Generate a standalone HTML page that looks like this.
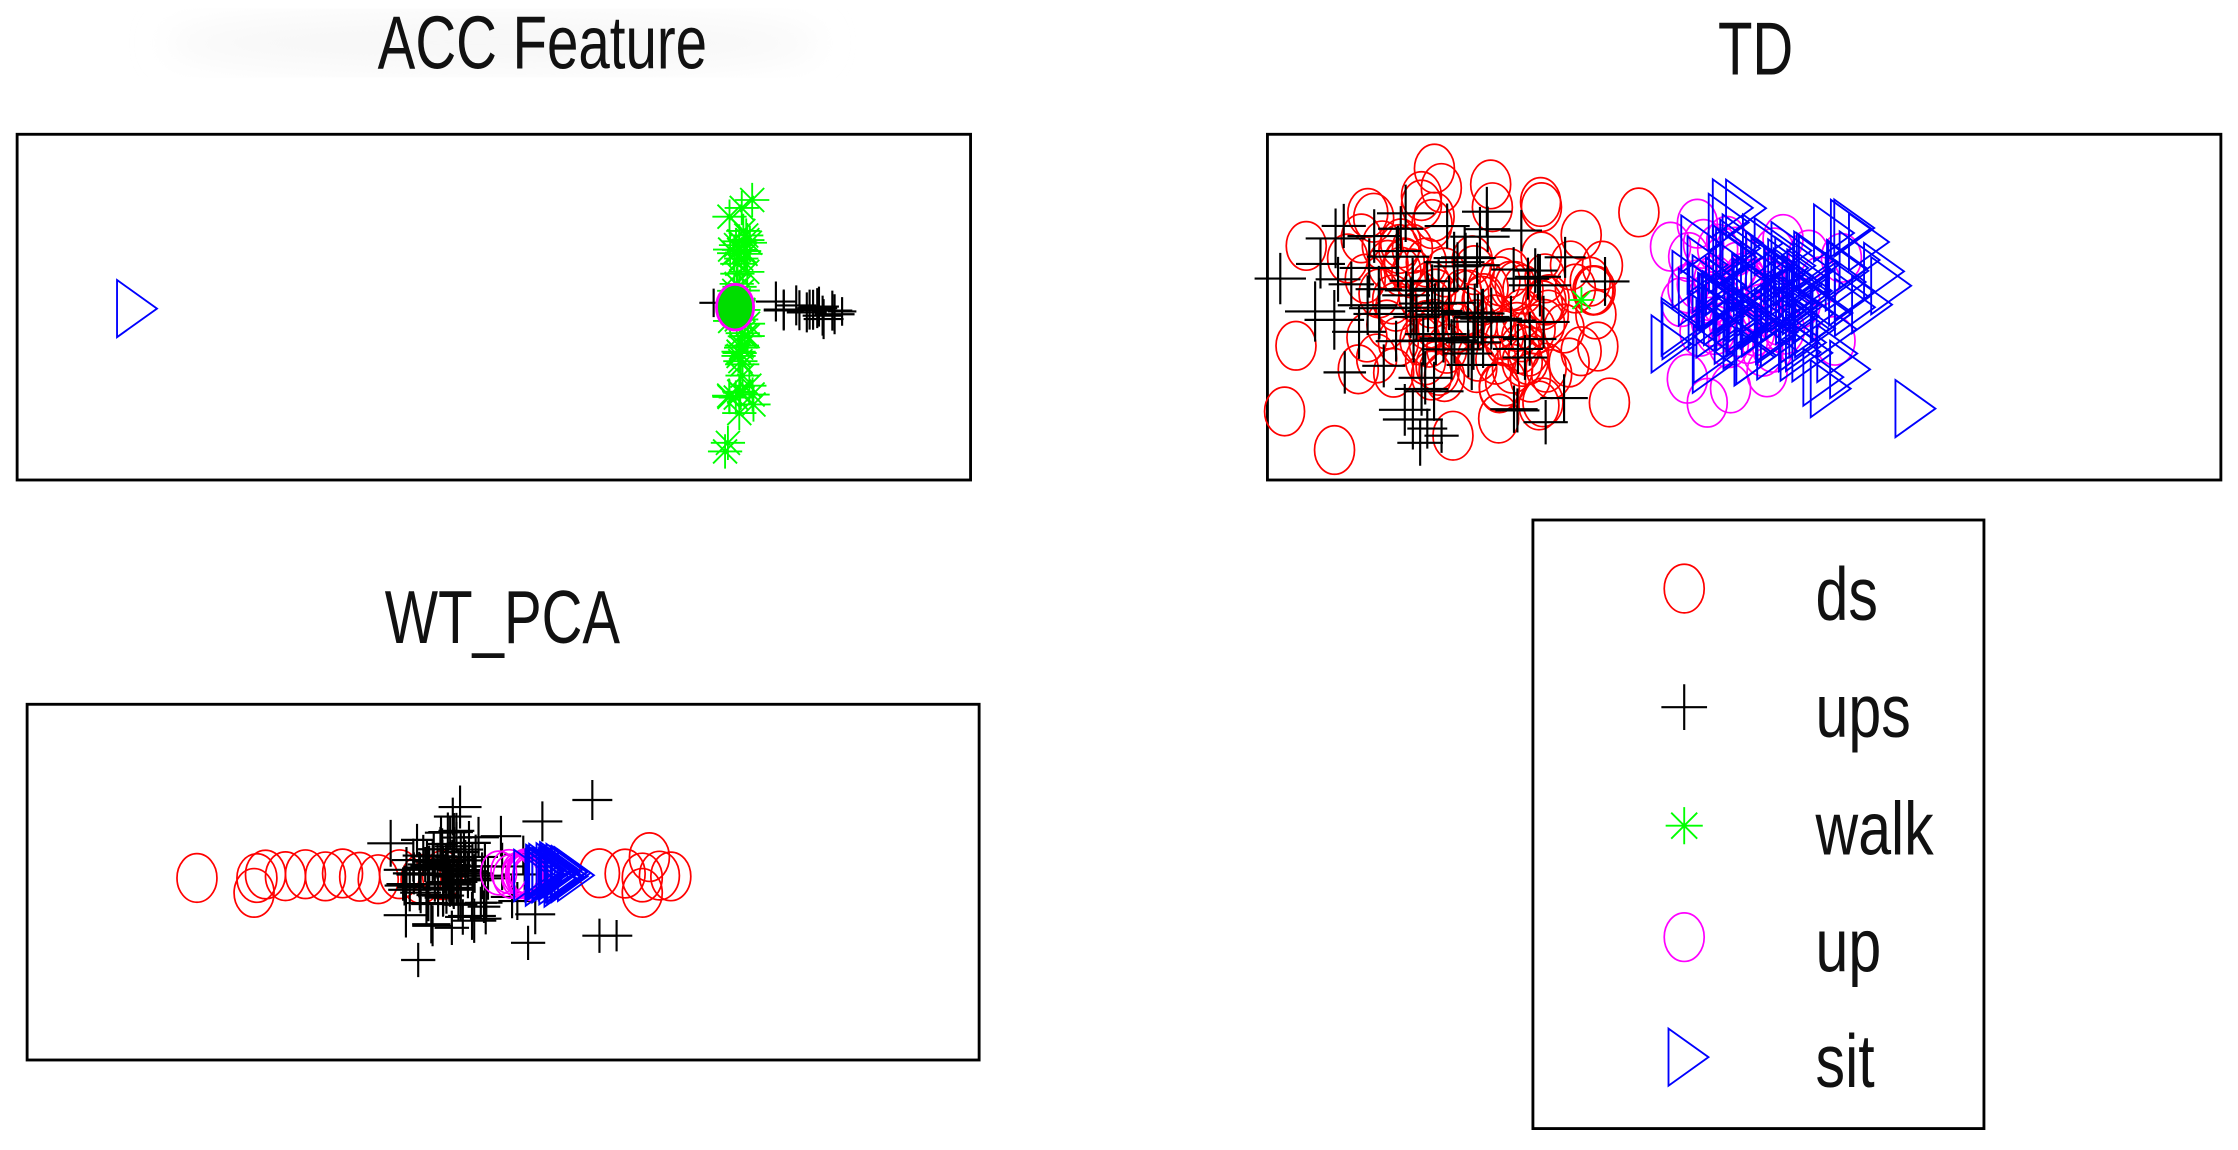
<!DOCTYPE html>
<html><head><meta charset="utf-8"><style>
html,body{margin:0;padding:0;background:#fff;}
svg{display:block;}
text{font-family:"Liberation Sans","DejaVu Sans",sans-serif;fill:#111;}
</style></head><body>
<svg id="s" width="2238" height="1150" viewBox="0 0 1568 805" preserveAspectRatio="none" xmlns="http://www.w3.org/2000/svg">
<defs><filter id="bl"><feGaussianBlur stdDeviation="12"/></filter></defs>
<ellipse cx="345" cy="30" rx="230" ry="20" fill="#f7f7f7" filter="url(#bl)"/>
<text font-size="46" text-anchor="middle" transform="translate(380,48) scale(0.86,1.15)">ACC Feature</text>
<text font-size="46" text-anchor="middle" transform="translate(1230,52) scale(0.86,1.15)">TD</text>
<text font-size="46" text-anchor="middle" transform="translate(352,450) scale(0.86,1.15)">WT_PCA</text>
<rect x="12" y="94" width="668" height="242" fill="none" stroke="#000" stroke-width="2"/>
<rect x="888" y="94" width="668" height="242" fill="none" stroke="#000" stroke-width="2"/>
<rect x="19" y="493" width="667" height="249" fill="none" stroke="#000" stroke-width="2"/>
<rect x="1074" y="364" width="316" height="426" fill="none" stroke="#000" stroke-width="2"/>
<g id="g"></g>
<g font-size="46">
<text transform="translate(1272,434) scale(0.9,1.15)">ds</text>
<text transform="translate(1272,516) scale(0.9,1.15)">ups</text>
<text transform="translate(1272,598) scale(0.9,1.15)">walk</text>
<text transform="translate(1272,680) scale(0.9,1.15)">up</text>
<text transform="translate(1272,761) scale(0.9,1.15)">sit</text>
</g>
</svg>
<script>
var g=document.getElementById('g'),h='';
var seed=7;function r(){seed=(seed*16807)%2147483647;return seed/2147483647;}
function rn(){return (r()+r()+r()-1.5)/1.5;}
function C(x,y,c,s){s=s||1;h+='<ellipse cx="'+x+'" cy="'+y+'" rx="'+(14*s)+'" ry="'+(17*s)+'" fill="none" stroke="'+c+'" stroke-width="1.2"/>';}
function P(x,y,s){s=s||18;h+='<path d="M'+(x-s)+' '+y+'h'+(2*s)+'M'+x+' '+(y-s)+'v'+(2*s)+'" stroke="#000" stroke-width="1.5"/>';}
function S(x,y,s){s=s||12;h+='<path d="M'+(x-s)+' '+y+'h'+(2*s)+'M'+x+' '+(y-s)+'v'+(2*s)+'M'+(x-s*.7)+' '+(y-s*.7)+'l'+(1.4*s)+' '+(1.4*s)+'M'+(x-s*.7)+' '+(y+s*.7)+'l'+(1.4*s)+' '+(-1.4*s)+'" stroke="#0f0" stroke-width="1.3"/>';}
function T(x,y,s){s=s||1;h+='<path d="M'+(x-14*s)+' '+(y-20*s)+'L'+(x+14*s)+' '+y+'L'+(x-14*s)+' '+(y+20*s)+'Z" fill="none" stroke="#00f" stroke-width="1.3"/>';}
var i;
// ACC
T(96,216);
for(i=0;i<45;i++)S(518+rn()*12,140+r()*150);
S(510,310);S(508,316);S(527,140);S(520,255);S(525,270);
for(i=0;i<14;i++)P(540+r()*45,218+rn()*8,14);
P(590,218,10);P(500,212,10);
h+='<ellipse cx="515" cy="215" rx="13" ry="16" fill="#0d0" stroke="#f0f" stroke-width="2"/>';
// TD
for(i=0;i<110;i++)C(1030+rn()*140,215+rn()*100,'#f00');
C(1005,118,'#f00');C(935,315,'#f00');C(900,288,'#f00');C(1050,293,'#f00');C(1018,305,'#f00');C(1080,145,'#f00');
for(i=0;i<80;i++)P(1010+rn()*140,215+rn()*95,14+r()*8);
P(897,195,18);P(1000,300,14);P(1010,305,12);P(995,310,16);
S(1108,210,9);
for(i=0;i<45;i++)C(1210+rn()*90,210+rn()*85,'#f0f');
for(i=0;i<110;i++)T(1240+rn()*100,210+rn()*75);
T(1342,286);T(1325,200);T(1320,190);T(1200,255);
// WT_PCA
var xs=[138,180,186,200,214,228,240,252,265,280,295,310,420,438,450,462,470];
for(i=0;i<xs.length;i++)C(xs[i],612+rn()*6,'#f00');
C(178,625,'#f00');C(450,625,'#f00');C(455,600,'#f00');
for(i=0;i<90;i++)P(320+rn()*60,612+rn()*55,11+r()*6);
P(415,560,14);P(293,672,12);P(420,655,12);P(375,640,14);P(432,655,11);P(380,575,14);P(370,660,12);
for(i=0;i<12;i++)C(365+rn()*25,612+rn()*6,'#f0f',0.9);
for(i=0;i<30;i++)T(390+rn()*20,612+rn()*6,0.9);
// legend markers
C(1180,412,'#f00');P(1180,495,16);S(1180,578,13);C(1180,656,'#f0f');T(1183,740);
g.innerHTML=h;
</script>
</body></html>
